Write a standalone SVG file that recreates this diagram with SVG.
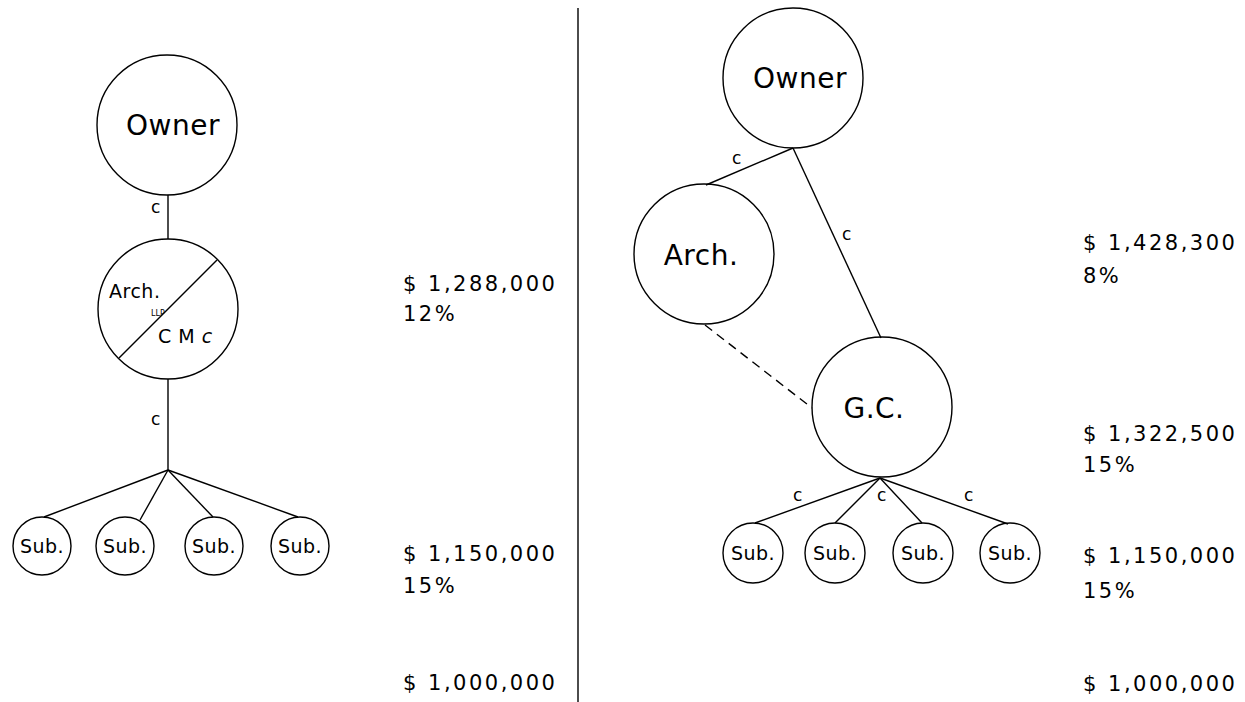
<svg xmlns="http://www.w3.org/2000/svg" width="1245" height="702" viewBox="0 0 1245 702">
<style>
.n{fill:none;stroke:#000;stroke-width:1.4}
.l{stroke:#000;stroke-width:1.4;fill:none}
.t{font-family:"DejaVu Sans",sans-serif;fill:#000}
.big{font-size:28px;letter-spacing:0.5px}
.sub{font-size:19px;letter-spacing:0.5px}
.c{font-size:17px}
.m{font-size:21px;letter-spacing:2.5px}
</style>
<rect width="1245" height="702" fill="#fff"/>
<g id="connectors">
<line class="l" x1="578" y1="8" x2="578" y2="702"/>
<line class="l" x1="168" y1="195" x2="168" y2="239"/>
<line class="l" x1="168" y1="379" x2="168" y2="470"/>
<line class="l" x1="168" y1="470" x2="44" y2="517"/>
<line class="l" x1="168" y1="470" x2="140" y2="520"/>
<line class="l" x1="168" y1="470" x2="213" y2="517"/>
<line class="l" x1="168" y1="470" x2="298" y2="517"/>
<line class="l" x1="793" y1="148" x2="706" y2="185"/>
<line class="l" x1="793" y1="148" x2="881" y2="338"/>
<line class="l" x1="705" y1="325" x2="812" y2="408" stroke-dasharray="9,6"/>
<line class="l" x1="880" y1="478" x2="755" y2="523"/>
<line class="l" x1="880" y1="478" x2="835" y2="523"/>
<line class="l" x1="880" y1="478" x2="922" y2="523"/>
<line class="l" x1="880" y1="478" x2="1008" y2="524"/>
<text class="t c" x="151" y="213">c</text>
<text class="t c" x="151" y="425">c</text>
<text class="t c" x="732" y="164">c</text>
<text class="t c" x="842" y="240">c</text>
<text class="t c" x="793" y="501">c</text>
<text class="t c" x="877" y="501">c</text>
<text class="t c" x="964" y="501">c</text>
</g>
<g id="owner-left"><circle class="n" cx="167" cy="125" r="70"/><text class="t big" x="173" y="135" text-anchor="middle">Owner</text></g>
<g id="archcm-left"><circle class="n" cx="168" cy="309" r="70"/><line class="l" x1="119" y1="358" x2="217" y2="260"/>
<text class="t sub" x="109" y="298">Arch.</text>
<text class="t" style="font-size:8px" x="151" y="316">LLP</text>
<text class="t sub" x="158" y="343">C M <tspan font-style="italic">c</tspan></text></g>
<g id="sub-l1"><circle class="n" cx="42" cy="546" r="29"/><text class="t sub" x="42" y="553" text-anchor="middle">Sub.</text></g>
<g id="sub-l2"><circle class="n" cx="125" cy="546" r="29"/><text class="t sub" x="125" y="553" text-anchor="middle">Sub.</text></g>
<g id="sub-l3"><circle class="n" cx="214" cy="546" r="29"/><text class="t sub" x="214" y="553" text-anchor="middle">Sub.</text></g>
<g id="sub-l4"><circle class="n" cx="300" cy="546" r="29"/><text class="t sub" x="300" y="553" text-anchor="middle">Sub.</text></g>
<g id="owner-right"><circle class="n" cx="793" cy="78" r="70"/><text class="t big" x="800" y="88" text-anchor="middle">Owner</text></g>
<g id="arch-right"><circle class="n" cx="704" cy="254" r="70"/><text class="t big" x="701" y="265" text-anchor="middle">Arch.</text></g>
<g id="gc-right"><circle class="n" cx="882" cy="407" r="70"/><text class="t big" x="874" y="418" text-anchor="middle">G.C.</text></g>
<g id="sub-r1"><circle class="n" cx="753" cy="553" r="30"/><text class="t sub" x="753" y="560" text-anchor="middle">Sub.</text></g>
<g id="sub-r2"><circle class="n" cx="835" cy="553" r="30"/><text class="t sub" x="835" y="560" text-anchor="middle">Sub.</text></g>
<g id="sub-r3"><circle class="n" cx="923" cy="553" r="30"/><text class="t sub" x="923" y="560" text-anchor="middle">Sub.</text></g>
<g id="sub-r4"><circle class="n" cx="1010" cy="553" r="30"/><text class="t sub" x="1010" y="560" text-anchor="middle">Sub.</text></g>
<g id="values">
<text class="t m" x="403" y="291">$ 1,288,000</text>
<text class="t m" x="403" y="321">12%</text>
<text class="t m" x="403" y="561">$ 1,150,000</text>
<text class="t m" x="403" y="593">15%</text>
<text class="t m" x="403" y="690">$ 1,000,000</text>
<text class="t m" x="1083" y="250">$ 1,428,300</text>
<text class="t m" x="1083" y="283">8%</text>
<text class="t m" x="1083" y="441">$ 1,322,500</text>
<text class="t m" x="1083" y="472">15%</text>
<text class="t m" x="1083" y="563">$ 1,150,000</text>
<text class="t m" x="1083" y="598">15%</text>
<text class="t m" x="1083" y="691">$ 1,000,000</text>
</g>
</svg>
